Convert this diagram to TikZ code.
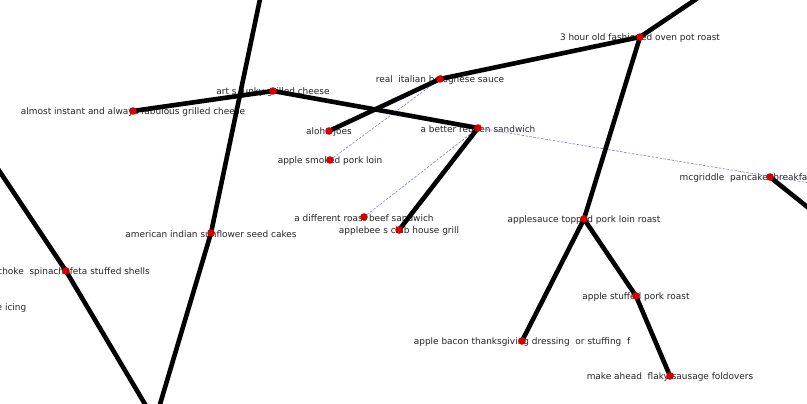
\documentclass[tikz,border=0pt]{standalone}
\usepackage{fontspec}
\setmainfont{DejaVu Sans}
\usepackage{xcolor}
\usepackage{tikz}
\definecolor{dotred}{RGB}{214,0,0}
\definecolor{linkblue}{RGB}{120,120,235}
\definecolor{txtgray}{RGB}{34,34,34}
\tikzset{
  lbl/.style={text=txtgray, inner sep=0pt, yshift=-0.8pt, font=\fontsize{8.95}{10.7}\selectfont},
  edge/.style={line width=4.6pt, black},
  link/.style={line width=0.6pt, linkblue, dash pattern=on 2.5pt off 1.5pt}
}

\begin{document}
\begin{tikzpicture}[x=1pt,y=-1pt]
    \useasboundingbox (0,0) rectangle (807,404);
    \clip (0,0) rectangle (807,404);

    % points
    \coordinate (almost) at (133,111);
    \coordinate (arts) at (273,91);
    \coordinate (reuben) at (478,128);
    \coordinate (bolognese) at (440,79);
    \coordinate (aloha) at (329,131);
    \coordinate (smoked) at (330,160);
    \coordinate (potroast) at (640,37);
    \coordinate (mcgriddle) at (770,177);
    \coordinate (roastbeef) at (364,217);
    \coordinate (applebee) at (399,230);
    \coordinate (sunflower) at (211,233);
    \coordinate (shells) at (66,271);
    \coordinate (applesauce) at (584,219);
    \coordinate (stuffed) at (636,296);
    \coordinate (bacon) at (522,341);
    \coordinate (foldovers) at (670,376);
    % off the page
    \coordinate (topA) at (264,-20);
    \coordinate (bottomA) at (155,421);
    \coordinate (leftA) at (-20,142);
    \coordinate (topB) at (726,-21);
    \coordinate (rightA) at (831,226);
    \coordinate (rightB) at (840,188);

    % texts
    \node[lbl] (almost-t) at (almost) {almost instant and always fabulous grilled cheese};
    \node[lbl] (arts-t) at (arts) {art s funky grilled cheese};
    \node[lbl] (reuben-t) at (reuben) {a better reuben sandwich};
    \node[lbl] (bolognese-t) at (bolognese) {real\ \ italian bolognese sauce};
    \node[lbl] (aloha-t) at (aloha) {aloha joes};
    \node[lbl] (smoked-t) at (smoked) {apple smoked pork loin};
    \node[lbl] (potroast-t) at (potroast) {3 hour old fashioned oven pot roast};
    \node[lbl] (mcgriddle-t) at (mcgriddle) {mcgriddle\ \ pancake\ \ breakfast sandwich};
    \node[lbl] (roastbeef-t) at (roastbeef) {a different roast beef sandwich};
    \node[lbl] (applebee-t) at (applebee) {applebee s club house grill};
    \node[lbl] (sunflower-t) at (sunflower) {american indian sunflower seed cakes};
    \node[lbl] (shells-t) at (shells) {artichoke\ \ spinach\ \ feta stuffed shells};
    \node[lbl, anchor=east] (icing-t) at (26.5,307) {e icing};
    \node[lbl] (applesauce-t) at (applesauce) {applesauce topped pork loin roast};
    \node[lbl] (stuffed-t) at (stuffed) {apple stuffed pork roast};
    \node[lbl] (bacon-t) at (bacon) {apple bacon thanksgiving dressing\ \ or stuffing\ \ f};
    \node[lbl] (foldovers-t) at (foldovers) {make ahead\ \ flaky sausage foldovers};

    % dashed links
    \draw[link] (smoked) -- (bolognese);
    \draw[link] (roastbeef) -- (reuben);
    \draw[link] (reuben) -- (rightB);

    % thick edges
    \draw[edge] (almost) -- (arts);
    \draw[edge] (arts) -- (reuben);
    \draw[edge] (aloha) -- (bolognese);
    \draw[edge] (bolognese) -- (potroast);
    \draw[edge] (potroast) -- (topB);
    \draw[edge] (potroast) -- (applesauce);
    \draw[edge] (reuben) -- (applebee);
    \draw[edge] (applesauce) -- (bacon);
    \draw[edge] (applesauce) -- (stuffed);
    \draw[edge] (stuffed) -- (foldovers);
    \draw[edge] (mcgriddle) -- (rightA);
    \draw[edge] (topA) -- (sunflower);
    \draw[edge] (sunflower) -- (bottomA);
    \draw[edge] (leftA) -- (shells);
    \draw[edge] (shells) -- (bottomA);

    % dots
    \fill[dotred] (almost) circle (3.8pt) (arts) circle (3.8pt) (reuben) circle (3.8pt)
      (bolognese) circle (3.8pt) (aloha) circle (3.8pt) (smoked) circle (3.8pt)
      (potroast) circle (3.8pt) (mcgriddle) circle (3.8pt) (roastbeef) circle (3.8pt)
      (applebee) circle (3.8pt) (sunflower) circle (3.8pt) (shells) circle (3.8pt)
      (applesauce) circle (3.8pt) (stuffed) circle (3.8pt) (bacon) circle (3.8pt)
      (foldovers) circle (3.8pt);
\end{tikzpicture}
\end{document}
